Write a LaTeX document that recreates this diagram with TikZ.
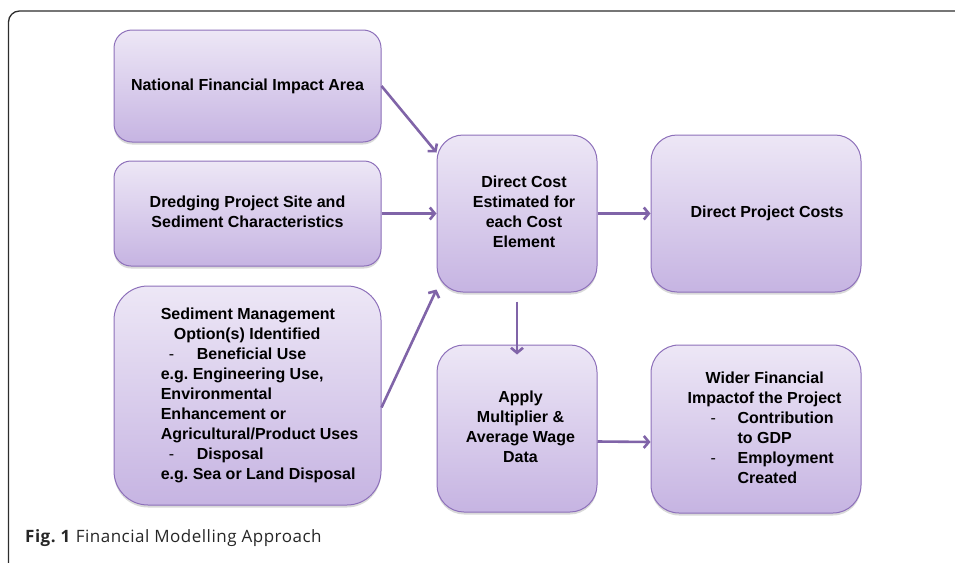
\documentclass[tikz,border=0pt]{standalone}
\usepackage{fontspec}
\setmainfont{Liberation Sans}
\newfontfamily\captionfont[LetterSpace=3]{Open Sans}
\usetikzlibrary{arrows.meta,shadows,calc}
\definecolor{boxtop}{RGB}{237,231,246}
\definecolor{boxbottom}{RGB}{198,180,226}
\definecolor{boxline}{RGB}{141,112,186}
\definecolor{arrowline}{RGB}{128,100,168}
\definecolor{framegray}{RGB}{45,45,45}
\newcommand{\itemdash}[1]{\makebox[#1][l]{\mdseries -}}
\frenchspacing

\begin{document}
\begin{tikzpicture}[x=1pt,y=-1pt,
    box/.style={draw=boxline, line width=1pt, top color=boxtop, bottom color=boxbottom,
      inner sep=0pt, font=\bfseries\fontsize{16}{20}\selectfont,
      drop shadow={shadow xshift=0pt, shadow yshift=-2.5pt, opacity=0.3}},
    flow/.style={draw=arrowline, line width=2.6pt, -{Straight Barb[length=5pt,width=12pt]}}]
            \useasboundingbox (0,0) rectangle (955,562);
            \clip (0,0) rectangle (955,562);
            \draw[framegray, line width=1.3pt, rounded corners=11pt] (8.5,11) rectangle (990,600);
            \node[box, minimum width=267pt, minimum height=112pt, rounded corners=18pt] at (247.5,86) (Area) {National Financial Impact Area};
            \node[box, minimum width=267pt, minimum height=105pt, rounded corners=17pt] at (247.5,213.5) (Site) {\begin{tabular}{@{}c@{}}Dredging Project Site and\\Sediment Characteristics\end{tabular}};
            \node[box, minimum width=267pt, minimum height=219pt, rounded corners=34pt] at (247.5,395.5) (Option) {\hspace*{24pt}\begin{tabular}{@{}l@{}}Sediment Management\\
              \hspace*{13pt}Option(s) Identified\\
              \hspace*{8pt}\itemdash{28pt}Beneficial Use\\
              e.g. Engineering Use,\\
              Environmental\\
              Enhancement or\\
              Agricultural/Product Uses\\
              \hspace*{8pt}\itemdash{28pt}Disposal\\
              e.g. Sea or Land Disposal\end{tabular}};
            \node[box, minimum width=160pt, minimum height=157pt, rounded corners=26pt] at (517,213.5) (Cost) {\hspace*{14pt}\begin{tabular}{@{}c@{}}Direct Cost\\Estimated for\\each Cost\\Element\end{tabular}};
            \node[box, minimum width=160pt, minimum height=167pt, rounded corners=27pt] at (517,428.5) (Wage) {\hspace*{7pt}\begin{tabular}{@{}c@{}}Apply\\Multiplier \&\\Average Wage\\Data\end{tabular}};
            \node[box, minimum width=210pt, minimum height=157pt, rounded corners=26pt] at (756,213.5) (Direct) {\hspace*{22pt}Direct Project Costs};
            \node[box, minimum width=210pt, minimum height=168pt, rounded corners=28pt] at (756,429) (Wider) {\hspace*{17pt}\begin{tabular}{@{}l@{}}\hspace*{18pt}Wider Financial\\
              Impactof the Project\\
              \hspace*{23pt}\itemdash{27pt}Contribution\\
              \hspace*{50pt}to GDP\\
              \hspace*{23pt}\itemdash{27pt}Employment\\
              \hspace*{50pt}Created\end{tabular}};
            \node[anchor=base west, inner sep=0pt, text=black!85, font=\captionfont\fontsize{17}{20}\selectfont] at (25,542) (Caption) {\textbf{Fig. 1} Financial Modelling Approach};
            \draw[flow] (Area.east) -- ($(Cost.north west)+(0,18)$);
            \draw[flow] (Site.east) -- (Cost.west);
            \draw[flow] ($(Option.east)+(0,12)$) -- ($(Cost.south west)+(0,-3)$);
            \draw[flow] ($(Cost.south)+(0,9)$) -- ($(Wage.north)+(0,10)$);
            \draw[flow] (Cost.east) -- (Direct.west);
            \draw[flow] ($(Wage.east)+(0,13)$) -- ($(Wider.west)+(0,13)$);
        \end{tikzpicture}
\end{document}
